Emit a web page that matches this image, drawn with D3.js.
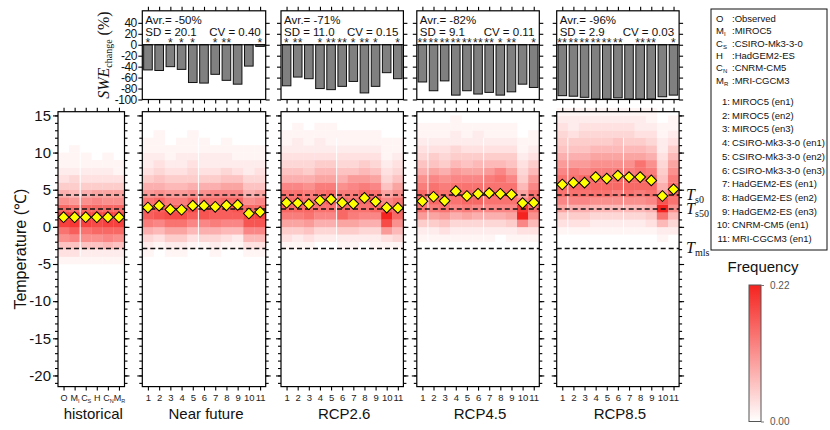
<!DOCTYPE html>
<html>
<head>
<meta charset="utf-8">
<script src="https://cdn.jsdelivr.net/npm/d3@7"></script>
<style>
  body { margin: 0; background: #fff; }
  text { font-family: "Liberation Sans", Arial, sans-serif; }
  .serif { font-family: "Liberation Serif", "Times New Roman", serif; }
</style>
</head>
<body>
<svg id="chart" width="830" height="430"></svg>
<script>
// temperature bins: lower edge of each 1 degree bin, -6 .. 15
const tempBins = d3.range(-6, 16);

const periodNames = ["historical", "Near future", "RCP2.6", "RCP4.5", "RCP8.5"];
const histLabels = [["O", ""], ["M", "I"], ["C", "S"], ["H", ""], ["C", "N"], ["M", "R"]];
const runLabels = ["1", "2", "3", "4", "5", "6", "7", "8", "9", "10", "11"];

// frequency (%) per column, one value per bin in tempBins
const freqHistorical = [
  [0,1,3,6,11,14,19,19,15,11,8,5,3,2,1,1,0,0,0,0,0,0],
  [0,1,3,6,12,16,20,19,14,10,7,5,4,2,1,1,1,0,0,0,0,0],
  [0,1,2,6,11,14,19,18,15,11,8,5,3,2,1,1,0,0,0,0,0,0],
  [0,1,2,6,11,15,18,18,15,12,9,5,3,2,1,0,0,0,0,0,0,0],
  [0,1,2,7,12,15,19,19,15,11,9,5,3,2,1,1,0,0,0,0,0,0],
  [0,1,2,6,11,15,19,18,15,11,9,5,3,1,1,0,0,0,0,0,0,0]
];
const freqNearFuture = [
  [0,0,1,2,4,8,13,16,16,14,10,8,5,3,2,2,1,1,0,0,0,0],
  [0,0,0,1,3,7,12,17,16,15,11,8,6,4,3,2,1,1,1,0,0,0],
  [0,0,1,2,5,9,14,18,16,13,10,7,5,3,2,1,1,0,0,0,0,0],
  [0,0,1,2,5,9,14,18,15,13,10,7,5,3,2,2,1,1,0,0,0,0],
  [0,0,0,1,3,7,12,16,18,15,11,8,5,4,3,2,1,1,1,0,0,0],
  [0,0,0,1,4,8,12,17,17,14,11,8,5,3,2,2,1,1,0,0,0,0],
  [0,0,1,2,4,8,13,16,16,14,12,8,5,3,2,2,1,0,0,0,0,0],
  [0,0,0,1,3,7,12,16,16,15,12,9,6,4,2,2,1,1,0,0,0,0],
  [0,0,0,1,2,7,12,16,17,15,12,9,6,3,2,1,1,0,0,0,0,0],
  [0,0,1,3,7,12,17,19,15,11,8,6,4,2,2,1,1,0,0,0,0,0],
  [0,0,1,3,7,12,17,19,15,12,9,6,4,3,2,1,1,0,0,0,0,0]
];
const freqRCP26 = [
  [0,0,0,1,3,5,9,13,15,15,14,12,8,6,4,3,2,1,1,0,0,0],
  [0,0,0,1,2,5,9,13,15,15,14,12,8,6,4,3,2,2,1,1,0,0],
  [0,0,0,1,3,6,10,14,15,14,13,11,8,5,4,3,2,1,1,0,0,0],
  [0,0,0,0,2,4,8,12,14,15,14,13,9,7,5,3,2,2,1,1,0,0],
  [0,0,0,0,2,4,8,12,14,16,15,13,9,7,5,3,2,1,1,1,0,0],
  [0,0,0,1,2,5,9,15,15,15,13,11,8,6,4,3,2,1,1,0,0,0],
  [0,0,0,1,2,5,9,13,14,14,13,12,10,6,4,3,2,1,1,0,0,0],
  [0,0,0,0,2,4,8,12,14,15,15,13,10,7,5,3,2,1,1,0,0,0],
  [0,0,0,1,2,4,8,12,15,16,14,12,9,6,4,3,2,1,1,0,0,0],
  [0,0,0,1,3,10,18,22,16,12,9,6,4,3,2,1,1,1,0,0,0,0],
  [0,0,0,1,4,7,11,15,15,14,11,9,6,4,3,2,1,1,0,0,0,0]
];
const freqRCP45 = [
  [0,0,0,0,1,2,5,10,14,15,15,13,11,8,6,4,3,2,1,1,0,0],
  [0,0,0,0,1,2,5,9,13,15,15,14,12,9,6,5,3,2,1,1,0,0],
  [0,0,0,0,1,3,6,10,14,15,14,13,11,8,5,4,3,2,1,1,0,0],
  [0,0,0,0,1,2,4,8,12,14,15,14,12,10,7,5,4,2,2,1,1,0],
  [0,0,0,0,1,2,4,9,13,15,15,14,12,9,6,5,3,2,1,1,0,0],
  [0,0,0,0,1,2,4,8,12,15,15,14,12,9,7,5,3,2,2,1,0,0],
  [0,0,0,0,1,2,4,8,12,14,15,14,13,10,7,5,3,2,1,1,0,0],
  [0,0,0,0,0,2,4,8,12,14,15,14,14,12,7,5,3,2,1,1,0,0],
  [0,0,0,0,1,2,5,9,12,14,15,14,12,9,6,5,3,2,1,1,0,0],
  [0,0,0,0,1,3,12,22,20,12,9,7,5,4,3,2,1,1,0,0,0,0],
  [0,0,0,0,1,3,7,11,14,15,14,12,10,7,5,3,2,1,1,0,0,0]
];
const freqRCP85 = [
  [0,0,0,0,0,1,3,5,9,12,14,15,14,12,10,8,6,5,4,3,2,1],
  [0,0,0,0,0,1,3,5,8,12,14,15,14,13,10,8,6,5,3,2,2,1],
  [0,0,0,0,0,1,3,5,8,12,14,15,15,12,10,8,6,5,4,3,2,1],
  [0,0,0,0,0,1,2,4,7,11,14,15,15,13,11,9,7,5,4,3,2,1],
  [0,0,0,0,0,1,2,4,7,11,14,15,15,13,11,9,7,5,4,3,2,1],
  [0,0,0,0,0,1,2,4,7,11,13,15,15,13,11,9,7,6,4,3,2,1],
  [0,0,0,0,0,1,2,4,7,11,14,15,15,13,11,9,7,5,4,3,2,1],
  [0,0,0,0,0,1,2,4,7,11,13,15,15,14,14,9,7,5,3,2,2,1],
  [0,0,0,0,0,1,3,5,8,12,14,15,15,13,11,8,6,4,3,2,1,1],
  [0,0,0,0,1,2,7,14,22,17,10,8,6,5,4,3,2,2,1,1,0,0],
  [0,0,0,0,0,2,4,7,11,14,15,14,13,11,9,7,5,3,2,1,1,0]
];

// mean temperature per column (diamonds)
const meanHistorical = [1.3, 1.3, 1.3, 1.3, 1.3, 1.3];
const meanNearFuture = [2.6, 2.85, 2.35, 2.3, 2.85, 2.85, 2.7, 2.9, 2.95, 1.8, 2.0];
const meanRCP26 = [3.25, 3.2, 3.05, 3.55, 3.7, 3.25, 3.1, 3.9, 3.4, 2.6, 2.55];
const meanRCP45 = [3.45, 4.05, 3.5, 4.8, 4.15, 4.45, 4.55, 4.45, 4.35, 3.2, 3.25];
const meanRCP85 = [5.7, 5.95, 5.95, 6.7, 6.5, 6.9, 6.7, 6.7, 6.25, 4.15, 5.05];

// SWE change (%) per run
const sweNearFuture = [-46, -47, -40, -45, -69, -70, -54, -65, -72, -39, -3];
const sweRCP26 = [-75, -59, -62, -80, -82, -76, -67, -88, -76, -51, -62];
const sweRCP45 = [-68, -84, -66, -92, -84, -90, -87, -92, -86, -72, -78];
const sweRCP85 = [-93, -94, -96, -99, -99, -97, -99, -99, -99, -95, -92];
const starsNearFuture = ["*", "", "*", "*", "*", "", "*", "**", "", "", "*"];
const starsRCP26 = ["*", "**", "", "*", "**", "**", "*", "**", "*", "", "*"];
const starsRCP45 = ["**", "**", "**", "**", "**", "**", "**", "*", "**", "", "*"];
const starsRCP85 = ["**", "**", "**", "**", "**", "**", "", "**", "**", "", "*"];
const sweAvr = ["-50%", "-71%", "-82%", "-96%"];
const sweSD = ["20.1", "11.0", "9.1", "2.9"];
const sweCV = ["0.40", "0.15", "0.11", "0.03"];

// snow threshold temperatures
const thresholdValues = [4.3, 2.4, -2.9];
const thresholdNames = ["s0", "s50", "mls"];

const gcmCodes = [["O", ""], ["M", "I"], ["C", "S"], ["H", ""], ["C", "N"], ["M", "R"]];
const gcmNames = ["Observed", "MIROC5", "CSIRO-Mk3-3-0", "HadGEM2-ES", "CNRM-CM5", "MRI-CGCM3"];
const runNames = ["MIROC5 (en1)", "MIROC5 (en2)", "MIROC5 (en3)", "CSIRO-Mk3-3-0 (en1)", "CSIRO-Mk3-3-0 (en2)",
  "CSIRO-Mk3-3-0 (en3)", "HadGEM2-ES (en1)", "HadGEM2-ES (en2)", "HadGEM2-ES (en3)", "CNRM-CM5 (en1)", "MRI-CGCM3 (en1)"];

const freqMax = 0.22;

// thin white seams seen between some columns
const seams = [[2], [5], [5], [1, 6], [1, 6]];

const svg = d3.select("#chart");

const panels = [
  { freq: freqHistorical, mean: meanHistorical, x0: 58, w: 66.5 },
  { freq: freqNearFuture, mean: meanNearFuture, swe: sweNearFuture, stars: starsNearFuture, x0: 142.3, w: 123.4 },
  { freq: freqRCP26, mean: meanRCP26, swe: sweRCP26, stars: starsRCP26, x0: 281, w: 122.4 },
  { freq: freqRCP45, mean: meanRCP45, swe: sweRCP45, stars: starsRCP45, x0: 416.8, w: 122.5 },
  { freq: freqRCP85, mean: meanRCP85, swe: sweRCP85, stars: starsRCP85, x0: 556.7, w: 122.4 }
];

const yH = d3.scaleLinear().domain([-21.5, 15.5]).range([386.6, 111.7]);
const yS = d3.scaleLinear().domain([-100, 62]).range([99.5, 10.8]);
const color = d3.scaleLinear().domain([0, freqMax]).range(["#ffffff", "#f5231f"]).clamp(true);

function noDomain(g) { g.select(".domain").remove(); g.selectAll(".tick line").attr("stroke", "#000").attr("stroke-width", 1.1); }

panels.forEach((p, pi) => {
  const n = p.freq.length;
  const x = d3.scaleBand().domain(d3.range(n)).range([p.x0, p.x0 + p.w]);
  const g = svg.append("g");

  // heatmap cells
  p.freq.forEach((col, ci) => {
    g.selectAll(null).data(col.map((v, bi) => ({ v, t: tempBins[bi] })).filter(d => d.v > 0))
      .enter().append("rect")
      .attr("x", x(ci))
      .attr("width", x.bandwidth() + 0.3)
      .attr("y", d => yH(d.t + 1))
      .attr("height", d => yH(d.t) - yH(d.t + 1) + 0.3)
      .attr("fill", d => color(d.v / 100));
  });

  seams[pi].forEach(s => {
    g.append("line").attr("x1", x(s)).attr("x2", x(s))
      .attr("y1", yH(12)).attr("y2", yH(-4))
      .attr("stroke", "#fff").attr("stroke-width", 1);
  });

  // threshold dashed lines
  thresholdValues.forEach(t => {
    g.append("line").attr("x1", p.x0).attr("x2", p.x0 + p.w)
      .attr("y1", yH(t)).attr("y2", yH(t))
      .attr("stroke", "#111").attr("stroke-width", 1.5).attr("stroke-dasharray", "5,3");
  });

  // mean diamonds
  g.selectAll(null).data(p.mean).enter().append("path")
    .attr("d", d3.symbol(d3.symbolSquare, 58)())
    .attr("transform", (d, i) => `translate(${x(i) + x.bandwidth() / 2},${yH(d)}) rotate(45)`)
    .attr("fill", "#ffff00").attr("stroke", "#000").attr("stroke-width", 1);

  g.append("rect").attr("x", p.x0).attr("y", yH.range()[1]).attr("width", p.w)
    .attr("height", yH.range()[0] - yH.range()[1]).attr("fill", "none").attr("stroke", "#000").attr("stroke-width", 1.2);

  // y ticks, minor every 1, major every 5
  const minor = d3.range(-21, 16);
  const major = d3.range(-20, 16, 5);
  g.append("g").attr("transform", `translate(${p.x0},0)`)
    .call(d3.axisLeft(yH).tickValues(minor).tickSize(3).tickFormat("")).call(noDomain);
  g.append("g").attr("transform", `translate(${p.x0 + p.w},0)`)
    .call(d3.axisRight(yH).tickValues(minor).tickSize(3).tickFormat("")).call(noDomain);
  const lAx = g.append("g").attr("transform", `translate(${p.x0},0)`)
    .call(d3.axisLeft(yH).tickValues(major).tickSize(5).tickPadding(2).tickFormat(pi === 0 ? d => d : ""))
    .call(noDomain);
  lAx.selectAll("text").attr("font-size", 15).attr("fill", "#111");
  g.append("g").attr("transform", `translate(${p.x0 + p.w},0)`)
    .call(d3.axisRight(yH).tickValues(major).tickSize(5).tickFormat("")).call(noDomain);

  // x ticks
  const xc = d3.scalePoint().domain(d3.range(n)).range([p.x0 + x.bandwidth() / 2, p.x0 + p.w - x.bandwidth() / 2]);
  g.append("g").attr("transform", `translate(0,${yH.range()[1]})`)
    .call(d3.axisTop(xc).tickSize(4).tickFormat("")).call(noDomain);
  const bAx = g.append("g").attr("transform", `translate(0,${yH.range()[0]})`)
    .call(d3.axisBottom(xc).tickSize(4).tickPadding(1.5).tickFormat(i => pi === 0 ? "" : runLabels[i]))
    .call(noDomain);
  bAx.selectAll("text").attr("font-size", 9.5).attr("fill", "#222").attr("dy", "0.95em");
  if (pi === 0) {
    bAx.selectAll(".tick text").each(function (i) {
      const t = d3.select(this).attr("font-size", 9);
      t.append("tspan").text(histLabels[i][0]);
      if (histLabels[i][1]) t.append("tspan").attr("font-size", 5.5).attr("dy", 2).text(histLabels[i][1]);
    });
  }

  svg.append("text").attr("x", p.x0 + p.w / 2 + 2).attr("y", 419).attr("text-anchor", "middle")
    .attr("font-size", 15).attr("fill", "#111").text(periodNames[pi]);

  // SWE change bars
  if (p.swe) {
    const si = pi - 1;
    const xb = d3.scaleBand().domain(d3.range(n)).range([p.x0, p.x0 + p.w]).paddingInner(0.23).paddingOuter(0.12);
    const gt = svg.append("g");
    gt.selectAll(null).data(p.swe).enter().append("rect")
      .attr("x", (d, i) => xb(i)).attr("width", xb.bandwidth())
      .attr("y", yS(0)).attr("height", d => yS(d) - yS(0))
      .attr("fill", "#808080").attr("stroke", "#111").attr("stroke-width", 1);
    gt.append("line").attr("x1", p.x0).attr("x2", p.x0 + p.w).attr("y1", yS(0)).attr("y2", yS(0))
      .attr("stroke", "#000").attr("stroke-width", 1.2);
    gt.selectAll(null).data(p.stars).enter().append("text")
      .attr("x", (d, i) => xb(i) + xb.bandwidth() / 2).attr("y", yS(0) + 2.5)
      .attr("text-anchor", "middle").attr("font-size", 12).attr("letter-spacing", 0.3).attr("fill", "#222")
      .text(d => d);
    gt.append("rect").attr("x", p.x0).attr("y", yS.range()[1]).attr("width", p.w)
      .attr("height", yS.range()[0] - yS.range()[1]).attr("fill", "none").attr("stroke", "#000").attr("stroke-width", 1.2);

    const sTicks = d3.range(-100, 41, 20);
    const la = gt.append("g").attr("transform", `translate(${p.x0},0)`)
      .call(d3.axisLeft(yS).tickValues(sTicks).tickSize(4).tickPadding(1.5).tickFormat(si === 0 ? d => d : ""))
      .call(noDomain);
    la.selectAll("text").attr("font-size", 12).attr("fill", "#111").attr("letter-spacing", -0.5);
    gt.append("g").attr("transform", `translate(${p.x0 + p.w},0)`)
      .call(d3.axisRight(yS).tickValues(sTicks).tickSize(4).tickFormat("")).call(noDomain);
    gt.append("g").attr("transform", `translate(0,${yS.range()[1]})`)
      .call(d3.axisTop(xc).tickSize(4).tickFormat("")).call(noDomain);
    gt.append("g").attr("transform", `translate(0,${yS.range()[0]})`)
      .call(d3.axisBottom(xc).tickSize(4).tickFormat("")).call(noDomain);

    gt.append("text").attr("x", p.x0 + 3).attr("y", 23.5).attr("font-size", 11.5).attr("fill", "#111")
      .text("Avr.= " + sweAvr[si]);
    gt.append("text").attr("x", p.x0 + 3).attr("y", 35.5).attr("font-size", 11.5).attr("fill", "#111")
      .text("SD = " + sweSD[si]);
    gt.append("text").attr("x", p.x0 + p.w - 5).attr("y", 35.5).attr("text-anchor", "end")
      .attr("font-size", 11.5).attr("fill", "#111").text("CV = " + sweCV[si]);
  }
});

// threshold labels
const lastP = panels[panels.length - 1];
thresholdValues.forEach((t, i) => {
  const tx = svg.append("text").attr("class", "serif").attr("x", lastP.x0 + lastP.w + 7).attr("y", yH(t) + 5)
    .attr("font-size", 16).attr("fill", "#111");
  tx.append("tspan").attr("font-style", "italic").text("T");
  tx.append("tspan").attr("font-size", 10).attr("dy", 3).text(thresholdNames[i]);
});

// axis titles
const sweTitle = svg.append("text").attr("class", "serif")
  .attr("transform", `translate(109,${(yS.range()[0] + yS.range()[1]) / 2}) rotate(-90)`)
  .attr("text-anchor", "middle").attr("font-size", 16).attr("fill", "#111");
sweTitle.append("tspan").attr("font-style", "italic").text("SWE");
sweTitle.append("tspan").attr("font-size", 10).attr("dy", 3).text("change");
sweTitle.append("tspan").attr("dy", -3).text(" (%)");

svg.append("text")
  .attr("transform", `translate(26,${(yH.range()[0] + yH.range()[1]) / 2}) rotate(-90)`)
  .attr("text-anchor", "middle").attr("font-size", 16).attr("fill", "#111").text("Temperature (\u2103)");

// legend box
const lg = svg.append("g");
lg.append("rect").attr("x", 711).attr("y", 9).attr("width", 116).attr("height", 241)
  .attr("fill", "#fff").attr("stroke", "#111").attr("stroke-width", 1);
gcmCodes.forEach((c, i) => {
  const y = 22 + i * 12.3;
  const t = lg.append("text").attr("x", 716).attr("y", y).attr("font-size", 9.5).attr("fill", "#111");
  t.append("tspan").text(c[0]);
  if (c[1]) t.append("tspan").attr("font-size", 6).attr("dy", 2).text(c[1]);
  lg.append("text").attr("x", 732).attr("y", y).attr("font-size", 9.5).attr("fill", "#111").text(":" + gcmNames[i]);
});
runNames.forEach((r, i) => {
  const y = 105 + i * 13.7;
  lg.append("text").attr("x", 730).attr("y", y).attr("text-anchor", "end").attr("font-size", 9.5).attr("fill", "#111").text((i + 1) + ":");
  lg.append("text").attr("x", 732).attr("y", y).attr("font-size", 9.5).attr("fill", "#111").text(r);
});

// colour bar
const defs = svg.append("defs");
const grad = defs.append("linearGradient").attr("id", "fgrad").attr("x1", 0).attr("x2", 0).attr("y1", 1).attr("y2", 0);
d3.range(0, 1.01, 0.25).forEach(f => {
  grad.append("stop").attr("offset", f).attr("stop-color", color(f * freqMax));
});
const cbY = d3.scaleLinear().domain([0, freqMax]).range([421.5, 285]);
svg.append("rect").attr("x", 749).attr("y", cbY(freqMax)).attr("width", 12).attr("height", cbY(0) - cbY(freqMax))
  .attr("fill", "url(#fgrad)").attr("stroke", "#555").attr("stroke-width", 1);
const cbAx = svg.append("g").attr("transform", "translate(761,0)")
  .call(d3.axisRight(cbY).tickValues([0, freqMax]).tickSize(3).tickPadding(6).tickFormat(d3.format(".2f")));
cbAx.select(".domain").remove();
cbAx.selectAll("line").attr("stroke", "#777");
cbAx.selectAll("text").attr("font-size", 10).attr("fill", "#555");
svg.append("text").attr("x", 763).attr("y", 272).attr("text-anchor", "middle").attr("font-size", 15).attr("fill", "#111").text("Frequency");
</script>
</body>
</html>
